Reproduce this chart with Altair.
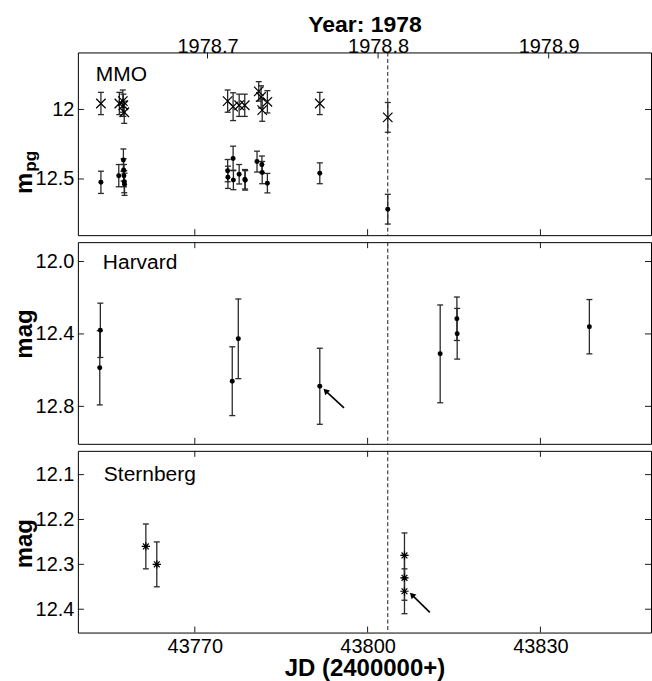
import altair as alt
import pandas as pd

FONT = "Liberation Sans"

# ---------------- data ----------------
# MMO (m_pg): crosses (upper row) and dots (lower row)
mmo_cross_jd = [43753.7, 43756.9, 43757.5, 43757.6, 43757.75, 43775.7, 43776.65, 43777.7,
                43778.67, 43781.1, 43781.5, 43781.7, 43782.6, 43791.7, 43803.5]
mmo_cross_mag = [11.957, 11.957, 11.94, 11.97, 12.02, 11.94, 11.98, 11.97,
                 11.97, 11.87, 11.91, 12.005, 11.945, 11.957, 12.057]
mmo_cross_err = [0.08, 0.08, 0.08, 0.08, 0.08, 0.08, 0.10, 0.08,
                 0.08, 0.07, 0.08, 0.08, 0.08, 0.08, 0.107]

mmo_dot_jd = [43753.7, 43756.8, 43757.6, 43757.65, 43757.7, 43757.75, 43757.8, 43775.7,
              43775.75, 43776.65, 43776.7, 43777.7, 43778.7, 43778.75, 43780.8, 43781.65,
              43781.7, 43782.6, 43791.7, 43803.5]
mmo_dot_mag = [12.524, 12.476, 12.364, 12.435, 12.476, 12.519, 12.538, 12.44,
               12.488, 12.352, 12.507, 12.466, 12.502, 12.51, 12.375, 12.395,
               12.454, 12.53, 12.459, 12.717]
mmo_dot_err = [0.08, 0.08, 0.08, 0.08, 0.08, 0.08, 0.08, 0.08,
               0.08, 0.088, 0.07, 0.07, 0.07, 0.07, 0.075, 0.06,
               0.08, 0.07, 0.075, 0.107]

# Harvard
har_jd = [43753.6, 43753.5, 43776.5, 43777.55, 43791.7, 43812.6, 43815.5, 43815.55, 43838.5]
har_mag = [12.38, 12.587, 12.661, 12.427, 12.689, 12.51, 12.316, 12.399, 12.36]
har_err = [0.15, 0.205, 0.19, 0.22, 0.21, 0.27, 0.12, 0.14, 0.15]

# Sternberg
ste_jd = [43761.5, 43763.4, 43806.4, 43806.4, 43806.4]
ste_mag = [12.26, 12.30, 12.28, 12.33, 12.36]
ste_err = [0.05, 0.05, 0.05, 0.05, 0.05]

event_jd = [43803.5]

# arrows: tail (jd, mag) -> head (jd2, mag2)
har_arrow = {"jd": [43795.9], "mag": [12.808], "jd2": [43792.7], "mag2": [12.714]}
ste_arrow = {"jd": [43810.8], "mag": [12.407], "jd2": [43807.7], "mag2": [12.368]}

jd_ticks = [43770, 43800, 43830]
year_ticks = [1978.7, 1978.8, 1978.9]
mmo_yticks = [12, 12.5]
har_yticks = [12.0, 12.4, 12.8]
ste_yticks = [12.1, 12.2, 12.3, 12.4]

# ---------------- layout ----------------
W = 574
XD = [43749.7, 43849.2]
YEAR_D = [1978.624, 1978.96]
INK = "#1a1a1a"


def xscale():
    return alt.Scale(domain=XD, nice=False, zero=False)


def table(jd, mag, err):
    return pd.DataFrame({"jd": jd, "mag": mag,
                         "lo": [m - e for m, e in zip(mag, err)],
                         "hi": [m + e for m, e in zip(mag, err)]})


def panel(H, ydom, yticks, yfmt, series, label, label_xy, ytitle, arrow=None,
          xaxis=None, top_year=False):
    ysc = alt.Scale(domain=ydom, reverse=True, nice=False, zero=False)
    yaxis = alt.Axis(values=yticks, format=yfmt, ticks=False, tickSize=0, domain=False,
                     grid=False, labelPadding=4, title=None, labelFontSize=20,
                     labelFont=FONT, labelColor="black")

    def X(field="jd"):
        return alt.X(f"{field}:Q", scale=xscale(), axis=xaxis, title=None)

    def Y(field):
        return alt.Y(f"{field}:Q", scale=ysc, axis=yaxis)

    layers = []
    # event line
    layers.append(alt.Chart(pd.DataFrame({"jd": event_jd})).mark_rule(
        color=INK, strokeWidth=1, strokeDash=[4, 2.5]).encode(x=X()))
    for df, shape, size, filled in series:
        base = alt.Chart(df)
        layers.append(base.mark_rule(color="#2a2a2a", strokeWidth=1.3).encode(
            x=X(), y=Y("lo"), y2="hi:Q"))
        for f in ("lo", "hi"):
            layers.append(base.mark_point(shape="M-1,0L1,0", size=36, filled=False,
                                          color="#2a2a2a", strokeWidth=1.3, opacity=1).encode(
                x=X(), y=Y(f)))
        layers.append(base.mark_point(shape=shape, size=size, filled=filled, color="black",
                                      strokeWidth=1.2, opacity=1).encode(x=X(), y=Y("mag")))
    if arrow is not None:
        adf = pd.DataFrame(arrow)
        layers.append(alt.Chart(adf).mark_rule(color="black", strokeWidth=1.6).encode(
            x=X(), x2="jd2:Q", y=Y("mag"), y2="mag2:Q"))
        layers.append(alt.Chart(adf).mark_point(shape="triangle-up", angle=315, size=45,
                                                filled=True, color="black", opacity=1).encode(
            x=X("jd2"), y=Y("mag2")))
    # inward ticks
    ytdf = pd.DataFrame({"v": yticks})
    layers.append(alt.Chart(ytdf).mark_rule(color=INK, strokeWidth=1).encode(
        y=Y("v"), x=alt.value(0), x2=alt.value(6)))
    layers.append(alt.Chart(ytdf).mark_rule(color=INK, strokeWidth=1).encode(
        y=Y("v"), x=alt.value(W - 6), x2=alt.value(W)))
    jtdf = pd.DataFrame({"jd": jd_ticks})
    layers.append(alt.Chart(jtdf).mark_rule(color=INK, strokeWidth=1).encode(
        x=X(), y=alt.value(H - 6), y2=alt.value(H)))
    if not top_year:
        layers.append(alt.Chart(jtdf).mark_rule(color=INK, strokeWidth=1).encode(
            x=X(), y=alt.value(0), y2=alt.value(6)))
    # panel label
    layers.append(alt.Chart(pd.DataFrame({"t": [label]})).mark_text(
        align="left", baseline="middle", fontSize=21, font=FONT, color="black").encode(
        x=alt.value(label_xy[0]), y=alt.value(label_xy[1]), text="t:N"))
    # y title
    for txt, size, dx, dy in ytitle:
        layers.append(alt.Chart(pd.DataFrame({"t": [txt]})).mark_text(
            angle=270, align="center", baseline="middle", fontSize=size, fontWeight="bold",
            font=FONT, color="black").encode(x=alt.value(dx), y=alt.value(dy), text="t:N"))

    if top_year:
        ydf = pd.DataFrame({"year": year_ticks})
        year_layer = alt.Chart(ydf).mark_rule(color=INK, strokeWidth=1).encode(
            x=alt.X("year:Q", scale=alt.Scale(domain=YEAR_D, nice=False, zero=False),
                    axis=alt.Axis(orient="top", values=year_ticks, format=".1f", ticks=False,
                                  tickSize=0, domain=False, grid=False, labelPadding=-4,
                                  labelFontSize=20, labelFont=FONT, labelColor="black",
                                  title="Year: 1978", titleFontSize=23, titleFont=FONT,
                                  titleFontWeight="bold", titlePadding=0,
                                  titleColor="black")),
            y=alt.value(0), y2=alt.value(6))
        ch = alt.layer(*layers, year_layer).resolve_scale(x="independent")
    else:
        ch = alt.layer(*layers)
    return ch.properties(width=W, height=H)


mmo = panel(
    183, [11.59, 12.904], mmo_yticks, "~g",
    [(table(mmo_cross_jd, mmo_cross_mag, mmo_cross_err), "M-1,-1L1,1M-1,1L1,-1", 90, False),
     (table(mmo_dot_jd, mmo_dot_mag, mmo_dot_err), "circle", 25, True)],
    "MMO", (18, 23), [("m", 24, -53, 131), ("pg", 17, -47, 109)],
    xaxis=None, top_year=True)

har = panel(
    202, [11.893, 13.007], har_yticks, ".1f",
    [(table(har_jd, har_mag, har_err), "circle", 25, True)],
    "Harvard", (25, 21), [("mag", 24, -53, 92)], arrow=har_arrow, xaxis=None)

bottom_axis = alt.Axis(orient="bottom", values=jd_ticks, format="d", ticks=False, tickSize=0,
                       domain=False, grid=False, labelPadding=4, labelFontSize=20,
                       labelFont=FONT, labelColor="black", title="JD (2400000+)",
                       titleFontSize=24, titleFont=FONT, titleFontWeight="bold",
                       titlePadding=0, titleColor="black")

ste = panel(
    182, [12.047, 12.452], ste_yticks, ".1f",
    [(table(ste_jd, ste_mag, ste_err),
      "M-1,0L1,0M0,-1L0,1M-0.7,-0.7L0.7,0.7M-0.7,0.7L0.7,-0.7", 70, False)],
    "Sternberg", (26, 24), [("mag", 24, -53, 93)], arrow=ste_arrow, xaxis=bottom_axis)

chart = alt.vconcat(mmo, har, ste, spacing=5).properties(
    padding={"left": 12, "top": 12, "right": 0, "bottom": 0}
).configure(
    background="white",
    view=alt.ViewConfig(stroke="black", strokeWidth=1),
)

chart.save("out.html", embed_options={"renderer": "svg", "actions": False})
